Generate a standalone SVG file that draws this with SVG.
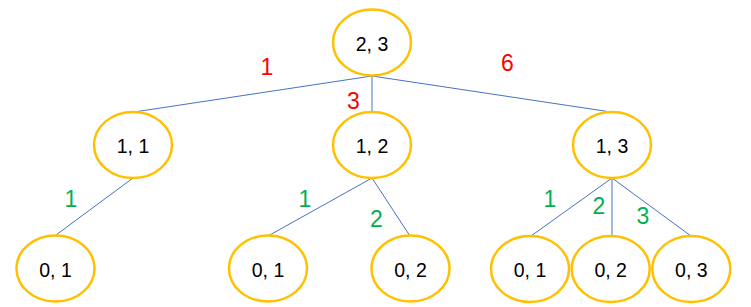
<svg xmlns="http://www.w3.org/2000/svg" width="751" height="307" viewBox="0 0 751 307">
<style>
.node ellipse{fill:#fff;stroke:#FFC000;stroke-width:2.5}
.node text{font-family:"Liberation Sans",Arial,sans-serif;font-size:19.5px;fill:#000;text-anchor:middle}
.edges line{stroke:#4472C4;stroke-width:1}
.lbl{font-family:"Liberation Sans",Arial,sans-serif;font-size:23px;text-anchor:middle}
.red{fill:#FF0000}
.green{fill:#00B050}
</style>
<rect width="751" height="307" fill="#fff"/>
<g class="edges" id="connectors">
<line x1="372" y1="76" x2="134" y2="112"/>
<line x1="372" y1="76" x2="372" y2="112"/>
<line x1="372" y1="76" x2="611" y2="112"/>
<line x1="133" y1="178" x2="56" y2="235"/>
<line x1="372" y1="178" x2="268" y2="236"/>
<line x1="372" y1="178" x2="410" y2="236"/>
<line x1="612" y1="178" x2="531" y2="236"/>
<line x1="612" y1="178" x2="612" y2="236"/>
<line x1="612" y1="178" x2="691" y2="236"/>
</g>
<g class="node" id="n23"><ellipse cx="372" cy="42.5" rx="39" ry="33"/><text x="372" y="51">2, 3</text></g>
<g class="node" id="n11"><ellipse cx="133" cy="145" rx="39" ry="33"/><text x="133" y="153">1, 1</text></g>
<g class="node" id="n12"><ellipse cx="372" cy="145" rx="39" ry="33"/><text x="372" y="153">1, 2</text></g>
<g class="node" id="n13"><ellipse cx="612" cy="145" rx="39" ry="33"/><text x="612" y="153">1, 3</text></g>
<g class="node" id="n01a"><ellipse cx="55.5" cy="268.5" rx="39" ry="33"/><text x="55.5" y="276.5">0, 1</text></g>
<g class="node" id="n01b"><ellipse cx="268" cy="268.5" rx="39" ry="33"/><text x="268" y="276.5">0, 1</text></g>
<g class="node" id="n02b"><ellipse cx="410.5" cy="268.5" rx="39" ry="33"/><text x="410.5" y="276.5">0, 2</text></g>
<g class="node" id="n01c"><ellipse cx="530" cy="269" rx="39" ry="33"/><text x="530" y="277">0, 1</text></g>
<g class="node" id="n02c"><ellipse cx="610.7" cy="269" rx="39" ry="33"/><text x="610.7" y="277">0, 2</text></g>
<g class="node" id="n03c"><ellipse cx="691.3" cy="269" rx="39" ry="33"/><text x="691.3" y="277">0, 3</text></g>
<g id="labels">
<text class="lbl red" x="267" y="75">1</text>
<text class="lbl red" x="353.5" y="108.5">3</text>
<text class="lbl red" x="507.5" y="71">6</text>
<text class="lbl green" x="71" y="207">1</text>
<text class="lbl green" x="305" y="207">1</text>
<text class="lbl green" x="376.5" y="227">2</text>
<text class="lbl green" x="550" y="207">1</text>
<text class="lbl green" x="599" y="213.5">2</text>
<text class="lbl green" x="643" y="223.5">3</text>
</g>
</svg>
